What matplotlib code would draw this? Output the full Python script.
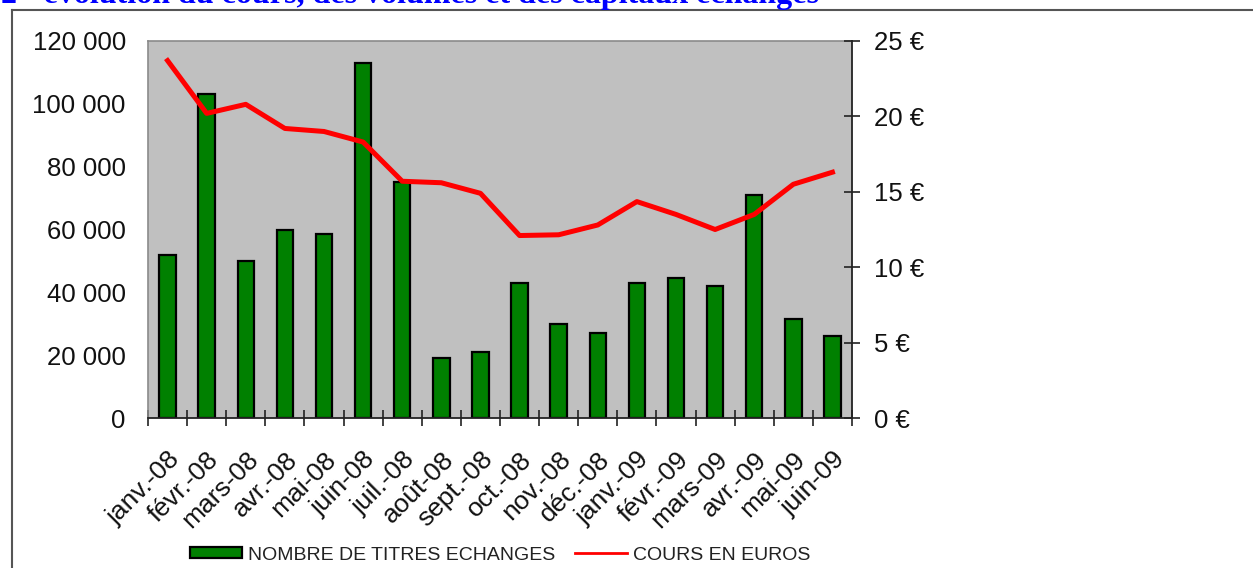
import matplotlib
matplotlib.use("Agg")
import matplotlib.pyplot as plt
import numpy as np
from matplotlib.lines import Line2D
from matplotlib.ticker import FuncFormatter, MultipleLocator

plt.rcParams['font.family'] = ['Liberation Sans', 'DejaVu Sans']

# data
months = ["janv.-08", "févr.-08", "mars-08", "avr.-08", "mai-08", "juin-08",
          "juil.-08", "août-08", "sept.-08", "oct.-08", "nov.-08", "déc.-08",
          "janv.-09", "févr.-09", "mars-09", "avr.-09", "mai-09", "juin-09"]
volumes = [52000, 103000, 50000, 60000, 58500, 113000,
           75000, 19000, 21000, 43000, 30000, 27000,
           43000, 44500, 42000, 71000, 31500, 26000]
cours = [23.7, 20.2, 20.8, 19.2, 19.0, 18.3,
         15.7, 15.6, 14.9, 12.1, 12.15, 12.8,
         14.35, 13.5, 12.5, 13.5, 15.5, 16.3]

heading = "2 - évolution du cours, des volumes et des capitaux échangés"
bar_label = "NOMBRE DE TITRES ECHANGES"
line_label = "COURS EN EUROS"

W, H = 1253, 568
fig = plt.figure(figsize=(W / 100, H / 100), dpi=100)
fig.patch.set_facecolor('white')

# plot area in pixels: left 148, right 852, top 41, bottom 418
ax = fig.add_axes([148 / W, 1 - 418 / H, (852 - 148) / W, (418 - 41) / H])
ax.set_facecolor('#C0C0C0')

x = np.arange(len(months))
bars = ax.bar(x, volumes, width=0.42, color='#008000', edgecolor='black',
              linewidth=1.6, zorder=2, label=bar_label)
ax.set_xlim(-0.5, len(months) - 0.5)
ax.set_ylim(0, 120000)
ax.yaxis.set_major_locator(MultipleLocator(20000))
ax.yaxis.set_major_formatter(FuncFormatter(lambda v, p: f"{int(v):,}".replace(",", " ")))
ax.tick_params(axis='y', length=0, labelsize=18.5, pad=16, colors='#111111')

# category ticks at boundaries, labels at centres
ax.set_xticks(np.arange(len(months) + 1) - 0.5)
ax.set_xticklabels([])
ax.set_xticks(x, minor=True)
ax.set_xticklabels(months, minor=True, rotation=45, ha='right',
                   rotation_mode='anchor', fontsize=19, color='#111111')
ax.tick_params(axis='x', which='major', direction='inout', length=12, width=1.2, color='#222222')
ax.tick_params(axis='x', which='minor', length=0, pad=21)

for s in ['left', 'top']:
    ax.spines[s].set_color('#8a8a8a')
    ax.spines[s].set_linewidth(1.2)
ax.spines['bottom'].set_color('#222222')
ax.spines['bottom'].set_linewidth(1.3)
ax.spines['right'].set_visible(False)

ax2 = ax.twinx()
ln, = ax2.plot(x, cours, color='#FF0000', linewidth=3.6, zorder=3, label=line_label,
               solid_joinstyle='round')
ax2.set_ylim(0, 25)
ax2.yaxis.set_major_locator(MultipleLocator(5))
ax2.yaxis.set_major_formatter(FuncFormatter(lambda v, p: f"{int(v)} €"))
ax2.tick_params(axis='y', direction='inout', length=12, width=1.2, color='#222222',
                labelsize=18.5, pad=10, labelcolor='#111111')
ax2.spines['right'].set_color('#222222')
ax2.spines['right'].set_linewidth(1.3)
for s in ['left', 'top', 'bottom']:
    ax2.spines[s].set_visible(False)

legend_handles = [bars, Line2D([0], [0], color='#FF0000', linewidth=2)]
leg = fig.legend(legend_handles, [bar_label, line_label], loc='center',
                 bbox_to_anchor=(500 / W, 1 - 555 / H), ncol=2, frameon=False,
                 fontsize=14, handlelength=2.7, handleheight=0.55,
                 handletextpad=0.3, columnspacing=1.0)
for t in leg.get_texts():
    t.set_color('#222222')

# document frame and clipped heading above the chart
fig.add_artist(Line2D([12 / W, 12 / W], [0, 1 - 10 / H], color='#555555', linewidth=1.5))
fig.add_artist(Line2D([12 / W, 1], [1 - 10 / H, 1 - 10 / H], color='#555555', linewidth=1.5))
fig.text(1 / W, 1 - 3 / H, heading, color='#0000FF', fontsize=23, fontweight='bold',
         family=['Liberation Serif', 'DejaVu Serif'], va='baseline', ha='left')

fig.savefig('out.png', dpi=100)
